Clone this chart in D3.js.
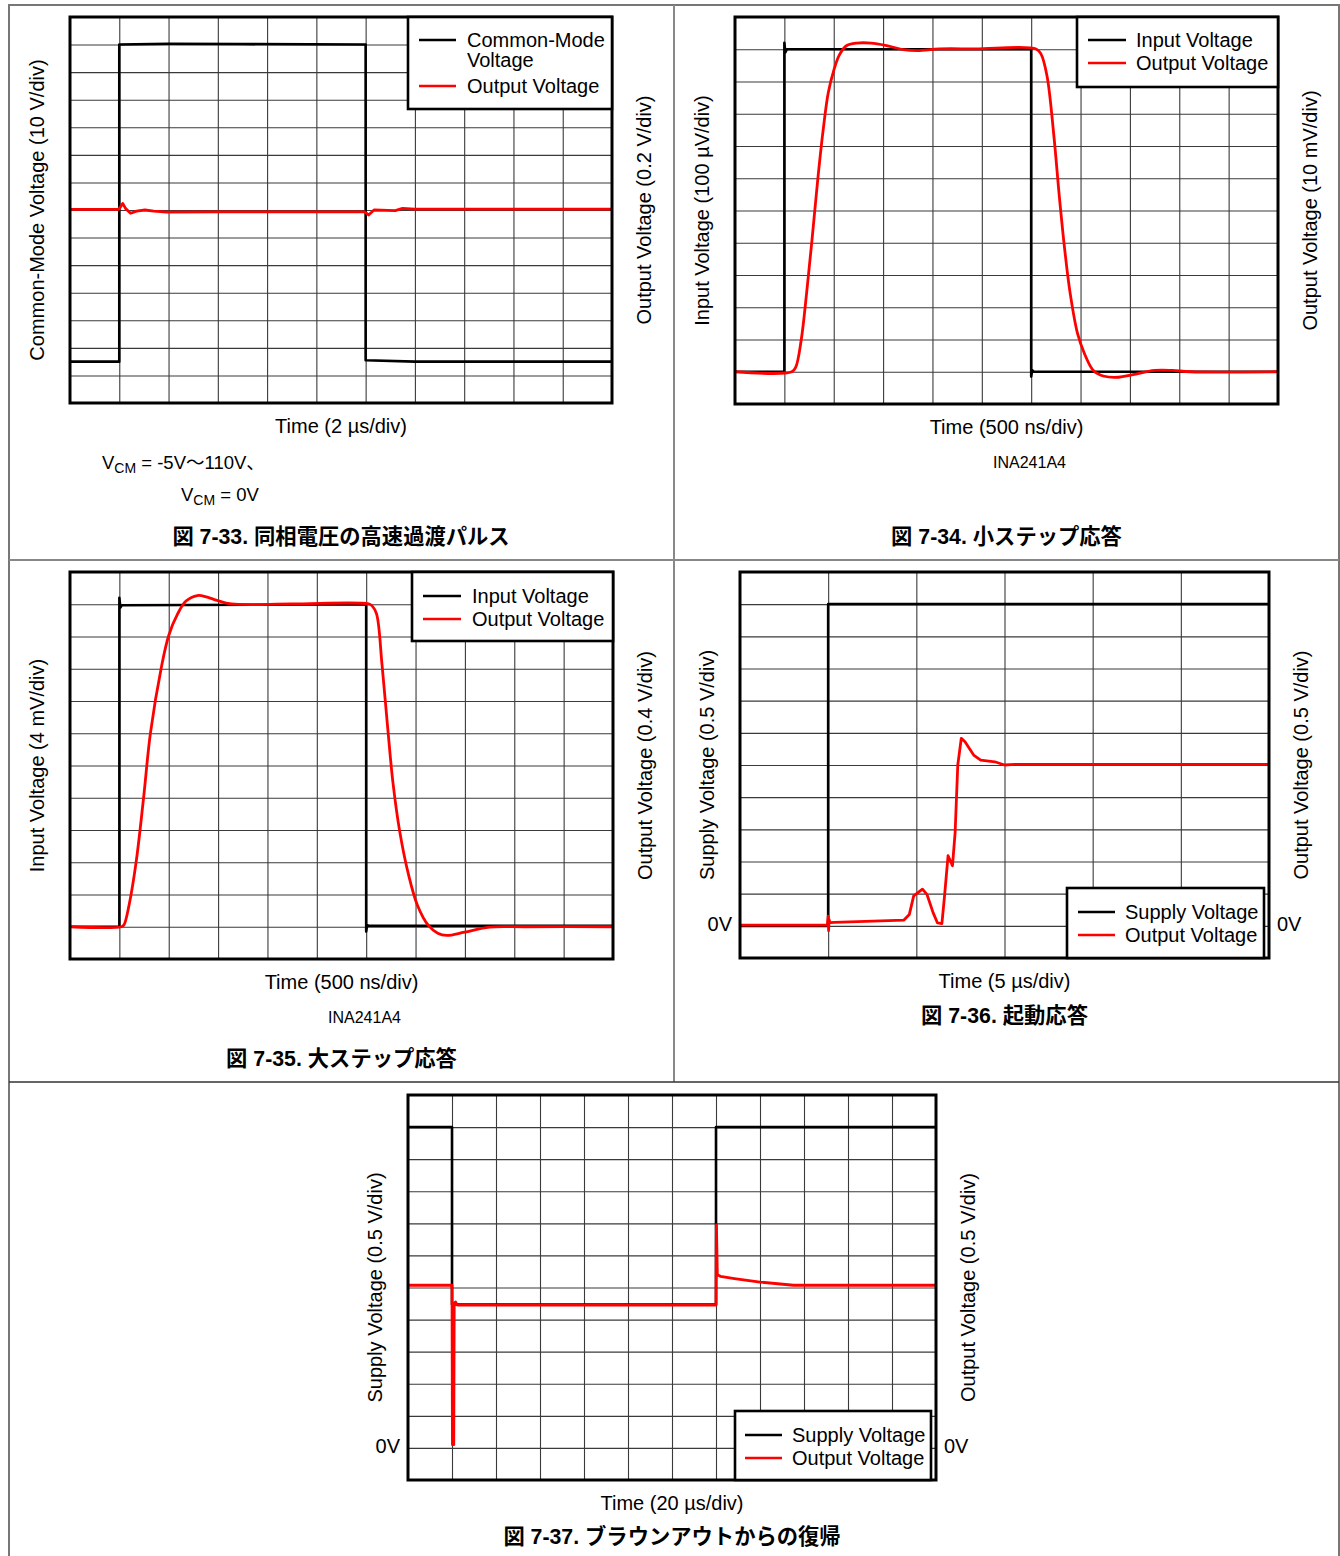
<!DOCTYPE html>
<html><head><meta charset="utf-8">
<script src="https://cdn.jsdelivr.net/npm/d3@7"></script>
<style>
body{margin:0;background:#fff}
svg{display:block}
text{font-family:"Liberation Sans",Arial,"Noto Sans CJK JP",sans-serif;fill:#000}
</style>
</head><body>
<svg id="c" width="1340" height="1556"></svg>
<script>
// ---------------- DATA (time and value in scope divisions) ----------------
// Fig 7-33 common-mode transient
const f33CmTime   = [0, 1.0, 1.0, 2.0, 3.5, 6.0, 6.0, 7.0, 11];
const f33CmValue  = [1.5, 1.5, 13.0, 13.03, 13.02, 13.0, 1.55, 1.5, 1.5];
const f33OutTime  = [0, 0.98, 1.02, 1.07, 1.13, 1.23, 1.35, 1.52, 1.7, 1.96, 3, 4, 5, 5.98, 6.06, 6.17, 6.6, 6.75, 7.0, 11];
const f33OutValue = [7.02, 7.02, 7.1, 7.24, 7.05, 6.88, 6.96, 7.0, 6.96, 6.92, 6.93, 6.93, 6.93, 6.93, 6.82, 7.0, 6.98, 7.06, 7.03, 7.03];

// Fig 7-34 small step
const f34InTime   = [0, 1.0, 1.0, 1.02, 1.05, 6.0, 6.0, 6.02, 6.05, 11];
const f34InValue  = [1.0, 1.0, 11.2, 10.9, 11.0, 11.0, 0.85, 1.05, 1.0, 1.0];
const f34OutTime  = [0, 1.15, 1.23, 1.34, 1.45, 1.56, 1.67, 1.78, 1.89, 2.0, 2.11, 2.25, 2.47, 2.76, 3.05, 3.41, 3.7, 4.14, 4.87, 6.1, 6.2, 6.32, 6.46, 6.57, 6.68, 6.79, 6.94, 7.08, 7.26, 7.48, 7.77, 8.06, 8.5, 8.86, 9.22, 11];
const f34OutValue = [1.0, 1.0, 1.14, 1.97, 3.43, 5.09, 6.86, 8.42, 9.66, 10.34, 10.81, 11.1, 11.19, 11.19, 11.12, 10.99, 10.96, 11.01, 11.01, 11.01, 10.85, 10.18, 8.31, 6.44, 4.78, 3.43, 2.18, 1.56, 1.04, 0.86, 0.83, 0.91, 1.04, 1.04, 1.0, 1.0];

// Fig 7-35 large step
const f35InTime   = [0, 1.0, 1.0, 1.02, 1.05, 6.0, 6.0, 6.02, 6.05, 11];
const f35InValue  = [1.0, 1.0, 11.2, 10.9, 10.97, 11.0, 0.85, 1.05, 1.03, 1.03];
const f35OutTime  = [0, 1.04, 1.09, 1.2, 1.34, 1.49, 1.63, 1.85, 2.0, 2.18, 2.35, 2.58, 2.78, 2.98, 3.27, 4.5, 6.05, 6.12, 6.21, 6.32, 6.43, 6.54, 6.68, 6.86, 7.04, 7.26, 7.45, 7.63, 7.99, 8.5, 9.22, 11];
const f35OutValue = [1.0, 1.0, 1.05, 1.7, 3.01, 4.99, 7.01, 9.04, 10.03, 10.7, 11.1, 11.27, 11.22, 11.12, 11.01, 11.01, 11.01, 10.95, 10.7, 9.14, 7.27, 5.5, 3.95, 2.6, 1.66, 1.04, 0.8, 0.73, 0.83, 0.99, 1.0, 1.0];

// Fig 7-36 start-up
const f36SupTime  = [0, 1.0, 1.0, 6];
const f36SupValue = [1.0, 1.0, 11.0, 11.0];
const f36OutTime  = [0, 0.99, 1.0, 1.005, 1.01, 1.02, 1.07, 1.86, 1.92, 1.97, 2.07, 2.12, 2.19, 2.24, 2.29, 2.32, 2.36, 2.41, 2.44, 2.47, 2.51, 2.55, 2.65, 2.73, 2.89, 3.0, 3.12, 6];
const f36OutValue = [1.02, 1.02, 1.3, 0.85, 1.2, 1.1, 1.11, 1.18, 1.35, 1.93, 2.14, 1.98, 1.41, 1.09, 1.07, 1.93, 3.18, 2.87, 3.9, 6.0, 6.83, 6.73, 6.31, 6.15, 6.1, 6.0, 6.02, 6.02];

// Fig 7-37 brown-out recovery
const f37SupTime  = [0, 1.0, 1.0, 7.0, 7.0, 12];
const f37SupValue = [11.0, 11.0, 5.47, 5.47, 11.0, 11.0];
const f37OutTime  = [0, 1.0, 1.01, 1.04, 1.05, 1.08, 1.12, 7.0, 7.01, 7.03, 7.1, 7.42, 8.0, 8.76, 12];
const f37OutValue = [6.07, 6.07, 1.1, 1.1, 5.5, 5.55, 5.45, 5.45, 7.95, 6.4, 6.35, 6.28, 6.17, 6.07, 6.07];

// Texts
const zeroLabel = "0V";
const legend33 = [["Common-Mode", "Voltage"], ["Output Voltage"]];
const legendIO = ["Input Voltage", "Output Voltage"];
const legendSup = ["Supply Voltage", "Output Voltage"];

// ---------------- DRAW ----------------
const svg = d3.select("#c");
const BLACK = "#000", RED = "#ff0000";

// table borders
const borders = svg.append("g").attr("fill","none");
borders.append("path").attr("d","M9,1556 V5 H1339 V1556").attr("stroke","#777").attr("stroke-width",2);
borders.append("line").attr("x1",674).attr("x2",674).attr("y1",5).attr("y2",1082).attr("stroke","#888").attr("stroke-width",2);
borders.append("line").attr("x1",9).attr("x2",1339).attr("y1",560).attr("y2",560).attr("stroke","#888").attr("stroke-width",2);
borders.append("line").attr("x1",9).attr("x2",1339).attr("y1",1082).attr("y2",1082).attr("stroke","#333").attr("stroke-width",1.5);

let clipId = 0;
function zip(t, v){ return t.map((d,i)=>({t:d, v:v[i]})); }

function drawPanel(p){
  const g = svg.append("g");
  const x = d3.scaleLinear().domain([0,p.cols]).range([p.x0,p.x1]);
  const y = d3.scaleLinear().domain([0,p.rows]).range([p.y1,p.y0]);
  const w = p.x1-p.x0, h = p.y1-p.y0;

  g.append("g").attr("transform",`translate(0,${p.y1})`)
    .call(d3.axisBottom(x).tickValues(d3.range(1,p.cols)).tickSize(-h).tickFormat(""))
    .call(a=>a.select(".domain").remove())
    .selectAll("line").attr("stroke","#3a3a3a").attr("stroke-width",1.1);
  g.append("g").attr("transform",`translate(${p.x0},0)`)
    .call(d3.axisLeft(y).tickValues(d3.range(1,p.rows)).tickSize(-w).tickFormat(""))
    .call(a=>a.select(".domain").remove())
    .selectAll("line").attr("stroke","#3a3a3a").attr("stroke-width",1.1);

  const id = "clip"+(clipId++);
  g.append("clipPath").attr("id",id).append("rect").attr("x",p.x0).attr("y",p.y0).attr("width",w).attr("height",h);
  const tr = g.append("g").attr("clip-path",`url(#${id})`);
  p.series.forEach(s=>{
    const line = d3.line().x(d=>x(d.t)).y(d=>y(d.v)).curve(s.smooth ? d3.curveCatmullRom.alpha(0.5) : d3.curveLinear);
    tr.append("path").datum(zip(s.t,s.v)).attr("d",line).attr("fill","none")
      .attr("stroke",s.color).attr("stroke-width",s.width||2.6).attr("stroke-linejoin","round");
  });

  g.append("rect").attr("x",p.x0).attr("y",p.y0).attr("width",w).attr("height",h)
    .attr("fill","none").attr("stroke","#000").attr("stroke-width",3);

  // legend
  const L = p.legend;
  const lg = g.append("g");
  lg.append("rect").attr("x",L.x0).attr("y",L.y0).attr("width",L.x1-L.x0).attr("height",L.y1-L.y0)
    .attr("fill","#fff").attr("stroke","#000").attr("stroke-width",2.6);
  L.items.forEach(it=>{
    lg.append("line").attr("x1",L.lx0).attr("x2",L.lx1).attr("y1",it.y).attr("y2",it.y)
      .attr("stroke",it.color).attr("stroke-width",2.6);
    it.lines.forEach((txt,k)=>{
      lg.append("text").attr("x",L.tx).attr("y",it.y+k*20).attr("dy","0.35em")
        .attr("font-size",20).text(txt);
    });
  });

  // axis titles
  const cx = (p.x0+p.x1)/2, cy = (p.y0+p.y1)/2;
  g.append("text").attr("x",cx).attr("y",p.y1+23).attr("dy","0.35em").attr("text-anchor","middle")
    .attr("font-size",20).text(p.xTitle);
  g.append("text").attr("transform",`translate(${p.x0-33},${cy}) rotate(-90)`).attr("dy","0.35em")
    .attr("text-anchor","middle").attr("font-size",20).text(p.yLeft);
  g.append("text").attr("transform",`translate(${p.x1+32},${cy}) rotate(-90)`).attr("dy","0.35em")
    .attr("text-anchor","middle").attr("font-size",20).text(p.yRight);
  if(p.zero!==undefined){
    g.append("text").attr("x",p.x0-8).attr("y",y(p.zero)-2).attr("dy","0.35em").attr("text-anchor","end").attr("font-size",20).text(zeroLabel);
    g.append("text").attr("x",p.x1+8).attr("y",y(p.zero)-2).attr("dy","0.35em").attr("text-anchor","start").attr("font-size",20).text(zeroLabel);
  }
  if(p.note){
    g.append("text").attr("x",cx+23).attr("y",p.note.y).attr("dy","0.35em").attr("text-anchor","middle").attr("font-size",16).text(p.note.text);
  }
  g.append("text").attr("x",cx).attr("y",p.caption.y).attr("dy","0.35em").attr("text-anchor","middle")
    .attr("font-size",21.3).attr("font-weight","bold").text(p.caption.text);
  return {x,y};
}

drawPanel({
  x0:70, x1:612, y0:17, y1:403, cols:11, rows:14,
  series:[{t:f33CmTime,v:f33CmValue,color:BLACK},{t:f33OutTime,v:f33OutValue,color:RED,width:2.8}],
  legend:{x0:408,x1:612,y0:17,y1:109,lx0:419,lx1:456,tx:467,
    items:[{y:40,color:BLACK,lines:legend33[0]},{y:86,color:RED,lines:legend33[1]}]},
  xTitle:"Time (2 µs/div)", yLeft:"Common-Mode Voltage (10 V/div)", yRight:"Output Voltage (0.2 V/div)",
  caption:{y:537,text:"図 7-33. 同相電圧の高速過渡パルス"}
});
drawPanel({
  x0:735, x1:1278, y0:17, y1:404, cols:11, rows:12,
  series:[{t:f34InTime,v:f34InValue,color:BLACK},{t:f34OutTime,v:f34OutValue,color:RED,smooth:true,width:2.8}],
  legend:{x0:1077,x1:1278,y0:17,y1:87,lx0:1088,lx1:1126,tx:1136,
    items:[{y:40,color:BLACK,lines:[legendIO[0]]},{y:63,color:RED,lines:[legendIO[1]]}]},
  xTitle:"Time (500 ns/div)", yLeft:"Input Voltage (100 µV/div)", yRight:"Output Voltage (10 mV/div)",
  note:{y:462,text:"INA241A4"},
  caption:{y:537,text:"図 7-34. 小ステップ応答"}
});
drawPanel({
  x0:70, x1:613, y0:572, y1:959, cols:11, rows:12,
  series:[{t:f35InTime,v:f35InValue,color:BLACK},{t:f35OutTime,v:f35OutValue,color:RED,smooth:true,width:2.8}],
  legend:{x0:412,x1:613,y0:572,y1:641,lx0:423,lx1:461,tx:472,
    items:[{y:596,color:BLACK,lines:[legendIO[0]]},{y:619,color:RED,lines:[legendIO[1]]}]},
  xTitle:"Time (500 ns/div)", yLeft:"Input Voltage (4 mV/div)", yRight:"Output Voltage (0.4 V/div)",
  note:{y:1017,text:"INA241A4"},
  caption:{y:1059,text:"図 7-35. 大ステップ応答"}
});
drawPanel({
  x0:740, x1:1269, y0:572, y1:958, cols:6, rows:12, zero:1,
  series:[{t:f36SupTime,v:f36SupValue,color:BLACK},{t:f36OutTime,v:f36OutValue,color:RED,width:2.8}],
  legend:{x0:1067,x1:1264,y0:888,y1:958,lx0:1078,lx1:1115,tx:1125,
    items:[{y:912,color:BLACK,lines:[legendSup[0]]},{y:935,color:RED,lines:[legendSup[1]]}]},
  xTitle:"Time (5 µs/div)", yLeft:"Supply Voltage (0.5 V/div)", yRight:"Output Voltage (0.5 V/div)",
  caption:{y:1016,text:"図 7-36. 起動応答"}
});
drawPanel({
  x0:408, x1:936, y0:1095, y1:1480, cols:12, rows:12, zero:1,
  series:[{t:f37SupTime,v:f37SupValue,color:BLACK},{t:f37OutTime,v:f37OutValue,color:RED,width:2.8}],
  legend:{x0:735,x1:931,y0:1411,y1:1480,lx0:745,lx1:782,tx:792,
    items:[{y:1435,color:BLACK,lines:[legendSup[0]]},{y:1458,color:RED,lines:[legendSup[1]]}]},
  xTitle:"Time (20 µs/div)", yLeft:"Supply Voltage (0.5 V/div)", yRight:"Output Voltage (0.5 V/div)",
  caption:{y:1537,text:"図 7-37. ブラウンアウトからの復帰"}
});

// V_CM note under fig 7-33
function vcm(xp, yp, rest){
  const t = svg.append("text").attr("x",xp).attr("y",yp).attr("dy","0.35em").attr("font-size",18.5);
  t.append("tspan").text("V");
  t.append("tspan").attr("font-size",14).attr("dy",4).text("CM");
  t.append("tspan").attr("dy",-4).text(rest);
}
vcm(102, 463, " = -5V～110V、");
vcm(181, 495, " = 0V");
</script>
</body></html>
